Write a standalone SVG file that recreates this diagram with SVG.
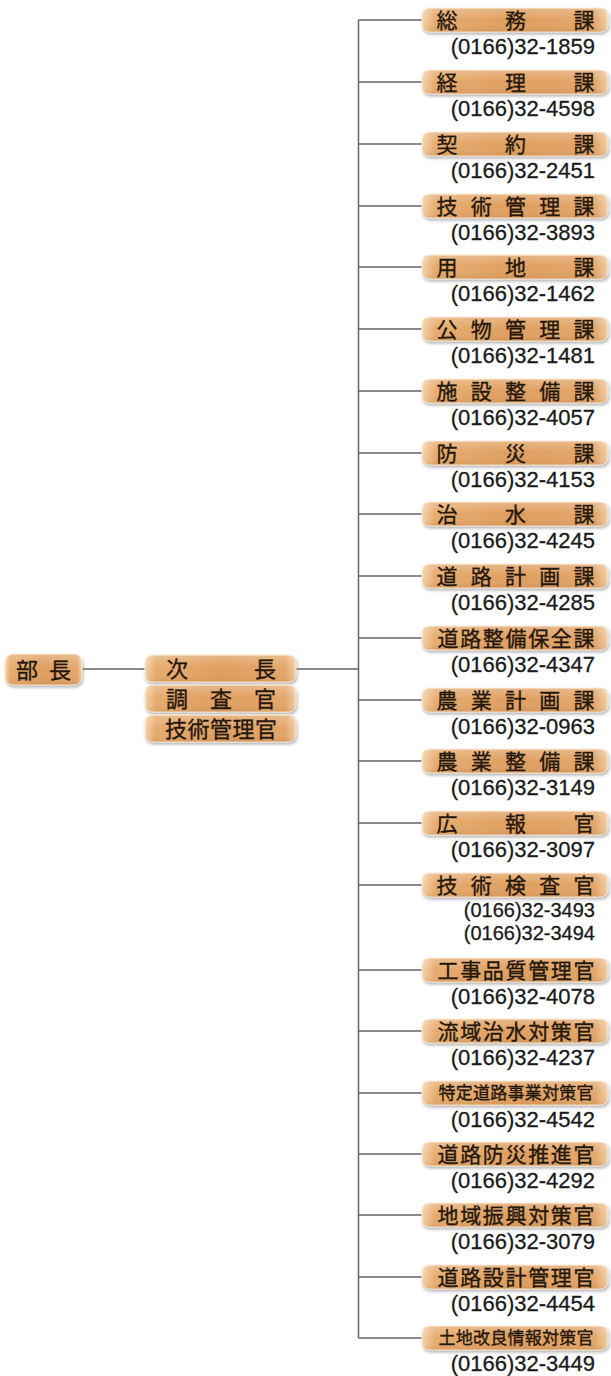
<svg xmlns="http://www.w3.org/2000/svg" width="611" height="1376" viewBox="0 0 611 1376">
<defs>
<linearGradient id="gh" x1="0" y1="0" x2="1" y2="0">
<stop offset="0" stop-color="#f4d3ab"/>
<stop offset="0.07" stop-color="#e6ab6e"/>
<stop offset="0.5" stop-color="#df9e5f"/>
<stop offset="0.93" stop-color="#e3a669"/>
<stop offset="1" stop-color="#f2cfa6"/>
</linearGradient>
<linearGradient id="gv" x1="0" y1="0" x2="0" y2="1">
<stop offset="0" stop-color="#ffffff" stop-opacity="0.25"/>
<stop offset="0.5" stop-color="#ffffff" stop-opacity="0"/>
<stop offset="1" stop-color="#8a4a10" stop-opacity="0.12"/>
</linearGradient>
<filter id="sh" x="-10%" y="-30%" width="120%" height="170%">
<feDropShadow dx="1" dy="2" stdDeviation="1.4" flood-color="#7a7a7a" flood-opacity="0.55"/>
</filter>
</defs>
<style>
.bx{fill:url(#gh);stroke:#fbeedd;stroke-width:1;filter:url(#sh)}
.gl{fill:url(#gv);stroke:none}
.t{font-family:"Noto Sans CJK JP","Noto Sans CJK SC",sans-serif;fill:#24170c;stroke:#24170c;stroke-width:0.35;text-anchor:middle}
.t20{font-size:21px}
.t21{font-size:21px}
.t17{font-size:17px}
.t22{font-size:22px}
.ph{font-family:"Liberation Sans",Arial,sans-serif;font-size:22px;fill:#1a1a1a;stroke:#1a1a1a;stroke-width:0.3;text-anchor:end}
.ph2{font-size:20px}
.ln{stroke:#666;stroke-width:1.5;fill:none}
</style>
<rect width="611" height="1376" fill="#ffffff"/>
<g id="connectors">
<path class="ln" d="M358.5 20V1338"/>
<path class="ln" d="M82 669H145M296 669H358.5"/>
<path class="ln" d="M358.5 20H422M358.5 82H422M358.5 144H422M358.5 206H422M358.5 267H422M358.5 329H422M358.5 391H422M358.5 453H422M358.5 514H422M358.5 576H422M358.5 638H422M358.5 700H422M358.5 761H422M358.5 823H422M358.5 885H422M358.5 970H422M358.5 1031H422M358.5 1093H422M358.5 1154H422M358.5 1215H422M358.5 1277H422M358.5 1338H422"/>
</g>
<g id="bucho"><rect class="bx" x="5" y="654" width="77" height="31" rx="8"/><rect class="gl" x="5" y="654" width="77" height="31" rx="8"/><text class="t t22" x="27 60" y="677.5">部長</text></g>
<g id="jicho"><rect class="bx" x="145" y="655" width="151" height="27" rx="7"/><rect class="gl" x="145" y="655" width="151" height="27" rx="7"/><text class="t t22" x="177 265" y="676.5">次長</text></g>
<g id="chosakan"><rect class="bx" x="145" y="685" width="151" height="27" rx="7"/><rect class="gl" x="145" y="685" width="151" height="27" rx="7"/><text class="t t22" x="177 221 265" y="706.5">調査官</text></g>
<g id="gijutsukanrikan"><rect class="bx" x="145" y="715" width="151" height="27" rx="7"/><rect class="gl" x="145" y="715" width="151" height="27" rx="7"/><text class="t t22" x="176 198.5 221 243.5 266" y="736.5">技術管理官</text></g>

<g id="n1"><rect class="bx" x="422" y="8" width="186" height="24" rx="7"/><rect class="gl" x="422" y="8" width="186" height="24" rx="7"/><text class="t t20" x="447 515.5 584" y="27.5">総務課</text><text class="ph" x="595" y="53.5">(0166)32-1859</text></g>
<g id="n2"><rect class="bx" x="422" y="70" width="186" height="24" rx="7"/><rect class="gl" x="422" y="70" width="186" height="24" rx="7"/><text class="t t20" x="447 515.5 584" y="89.5">経理課</text><text class="ph" x="595" y="115.5">(0166)32-4598</text></g>
<g id="n3"><rect class="bx" x="422" y="132" width="186" height="24" rx="7"/><rect class="gl" x="422" y="132" width="186" height="24" rx="7"/><text class="t t20" x="447 515.5 584" y="151.5">契約課</text><text class="ph" x="595" y="177.5">(0166)32-2451</text></g>
<g id="n4"><rect class="bx" x="422" y="194" width="186" height="24" rx="7"/><rect class="gl" x="422" y="194" width="186" height="24" rx="7"/><text class="t t20" x="447 481.25 515.5 549.75 584" y="213.5">技術管理課</text><text class="ph" x="595" y="239.5">(0166)32-3893</text></g>
<g id="n5"><rect class="bx" x="422" y="255" width="186" height="24" rx="7"/><rect class="gl" x="422" y="255" width="186" height="24" rx="7"/><text class="t t20" x="447 515.5 584" y="274.5">用地課</text><text class="ph" x="595" y="300.5">(0166)32-1462</text></g>
<g id="n6"><rect class="bx" x="422" y="317" width="186" height="24" rx="7"/><rect class="gl" x="422" y="317" width="186" height="24" rx="7"/><text class="t t20" x="447 481.25 515.5 549.75 584" y="336.5">公物管理課</text><text class="ph" x="595" y="362.5">(0166)32-1481</text></g>
<g id="n7"><rect class="bx" x="422" y="379" width="186" height="24" rx="7"/><rect class="gl" x="422" y="379" width="186" height="24" rx="7"/><text class="t t20" x="447 481.25 515.5 549.75 584" y="398.5">施設整備課</text><text class="ph" x="595" y="424.5">(0166)32-4057</text></g>
<g id="n8"><rect class="bx" x="422" y="441" width="186" height="24" rx="7"/><rect class="gl" x="422" y="441" width="186" height="24" rx="7"/><text class="t t20" x="447 515.5 584" y="460.5">防災課</text><text class="ph" x="595" y="486.5">(0166)32-4153</text></g>
<g id="n9"><rect class="bx" x="422" y="502" width="186" height="24" rx="7"/><rect class="gl" x="422" y="502" width="186" height="24" rx="7"/><text class="t t20" x="447 515.5 584" y="521.5">治水課</text><text class="ph" x="595" y="547.5">(0166)32-4245</text></g>
<g id="n10"><rect class="bx" x="422" y="564" width="186" height="24" rx="7"/><rect class="gl" x="422" y="564" width="186" height="24" rx="7"/><text class="t t20" x="447 481.25 515.5 549.75 584" y="583.5">道路計画課</text><text class="ph" x="595" y="609.5">(0166)32-4285</text></g>
<g id="n11"><rect class="bx" x="422" y="626" width="186" height="24" rx="7"/><rect class="gl" x="422" y="626" width="186" height="24" rx="7"/><text class="t t21" x="448 470.67 493.33 516 538.67 561.33 584" y="645.5">道路整備保全課</text><text class="ph" x="595" y="671.5">(0166)32-4347</text></g>
<g id="n12"><rect class="bx" x="422" y="688" width="186" height="24" rx="7"/><rect class="gl" x="422" y="688" width="186" height="24" rx="7"/><text class="t t20" x="447 481.25 515.5 549.75 584" y="707.5">農業計画課</text><text class="ph" x="595" y="733.5">(0166)32-0963</text></g>
<g id="n13"><rect class="bx" x="422" y="749" width="186" height="24" rx="7"/><rect class="gl" x="422" y="749" width="186" height="24" rx="7"/><text class="t t20" x="447 481.25 515.5 549.75 584" y="768.5">農業整備課</text><text class="ph" x="595" y="794.5">(0166)32-3149</text></g>
<g id="n14"><rect class="bx" x="422" y="811" width="186" height="24" rx="7"/><rect class="gl" x="422" y="811" width="186" height="24" rx="7"/><text class="t t20" x="447 515.5 584" y="830.5">広報官</text><text class="ph" x="595" y="856.5">(0166)32-3097</text></g>
<g id="n15"><rect class="bx" x="422" y="873" width="186" height="24" rx="7"/><rect class="gl" x="422" y="873" width="186" height="24" rx="7"/><text class="t t20" x="447 481.25 515.5 549.75 584" y="892.5">技術検査官</text><text class="ph ph2" x="595" y="917">(0166)32-3493</text><text class="ph ph2" x="595" y="940">(0166)32-3494</text></g>
<g id="n16"><rect class="bx" x="422" y="958" width="186" height="24" rx="7"/><rect class="gl" x="422" y="958" width="186" height="24" rx="7"/><text class="t t21" x="448 470.67 493.33 516 538.67 561.33 584" y="977.5">工事品質管理官</text><text class="ph" x="595" y="1003.5">(0166)32-4078</text></g>
<g id="n17"><rect class="bx" x="422" y="1019" width="186" height="24" rx="7"/><rect class="gl" x="422" y="1019" width="186" height="24" rx="7"/><text class="t t21" x="448 470.67 493.33 516 538.67 561.33 584" y="1038.5">流域治水対策官</text><text class="ph" x="595" y="1064.5">(0166)32-4237</text></g>
<g id="n18"><rect class="bx" x="422" y="1081" width="186" height="24" rx="7"/><rect class="gl" x="422" y="1081" width="186" height="24" rx="7"/><text class="t t17" x="447 464.25 481.5 498.75 516 533.25 550.5 567.75 585" y="1099">特定道路事業対策官</text><text class="ph" x="595" y="1126.5">(0166)32-4542</text></g>
<g id="n19"><rect class="bx" x="422" y="1142" width="186" height="24" rx="7"/><rect class="gl" x="422" y="1142" width="186" height="24" rx="7"/><text class="t t21" x="448 470.67 493.33 516 538.67 561.33 584" y="1161.5">道路防災推進官</text><text class="ph" x="595" y="1187.5">(0166)32-4292</text></g>
<g id="n20"><rect class="bx" x="422" y="1203" width="186" height="24" rx="7"/><rect class="gl" x="422" y="1203" width="186" height="24" rx="7"/><text class="t t21" x="448 470.67 493.33 516 538.67 561.33 584" y="1222.5">地域振興対策官</text><text class="ph" x="595" y="1248.5">(0166)32-3079</text></g>
<g id="n21"><rect class="bx" x="422" y="1265" width="186" height="24" rx="7"/><rect class="gl" x="422" y="1265" width="186" height="24" rx="7"/><text class="t t21" x="448 470.67 493.33 516 538.67 561.33 584" y="1284.5">道路設計管理官</text><text class="ph" x="595" y="1310.5">(0166)32-4454</text></g>
<g id="n22"><rect class="bx" x="422" y="1326" width="186" height="24" rx="7"/><rect class="gl" x="422" y="1326" width="186" height="24" rx="7"/><text class="t t17" x="447 464.25 481.5 498.75 516 533.25 550.5 567.75 585" y="1344">土地改良情報対策官</text><text class="ph" x="595" y="1371">(0166)32-3449</text></g>
</svg>
